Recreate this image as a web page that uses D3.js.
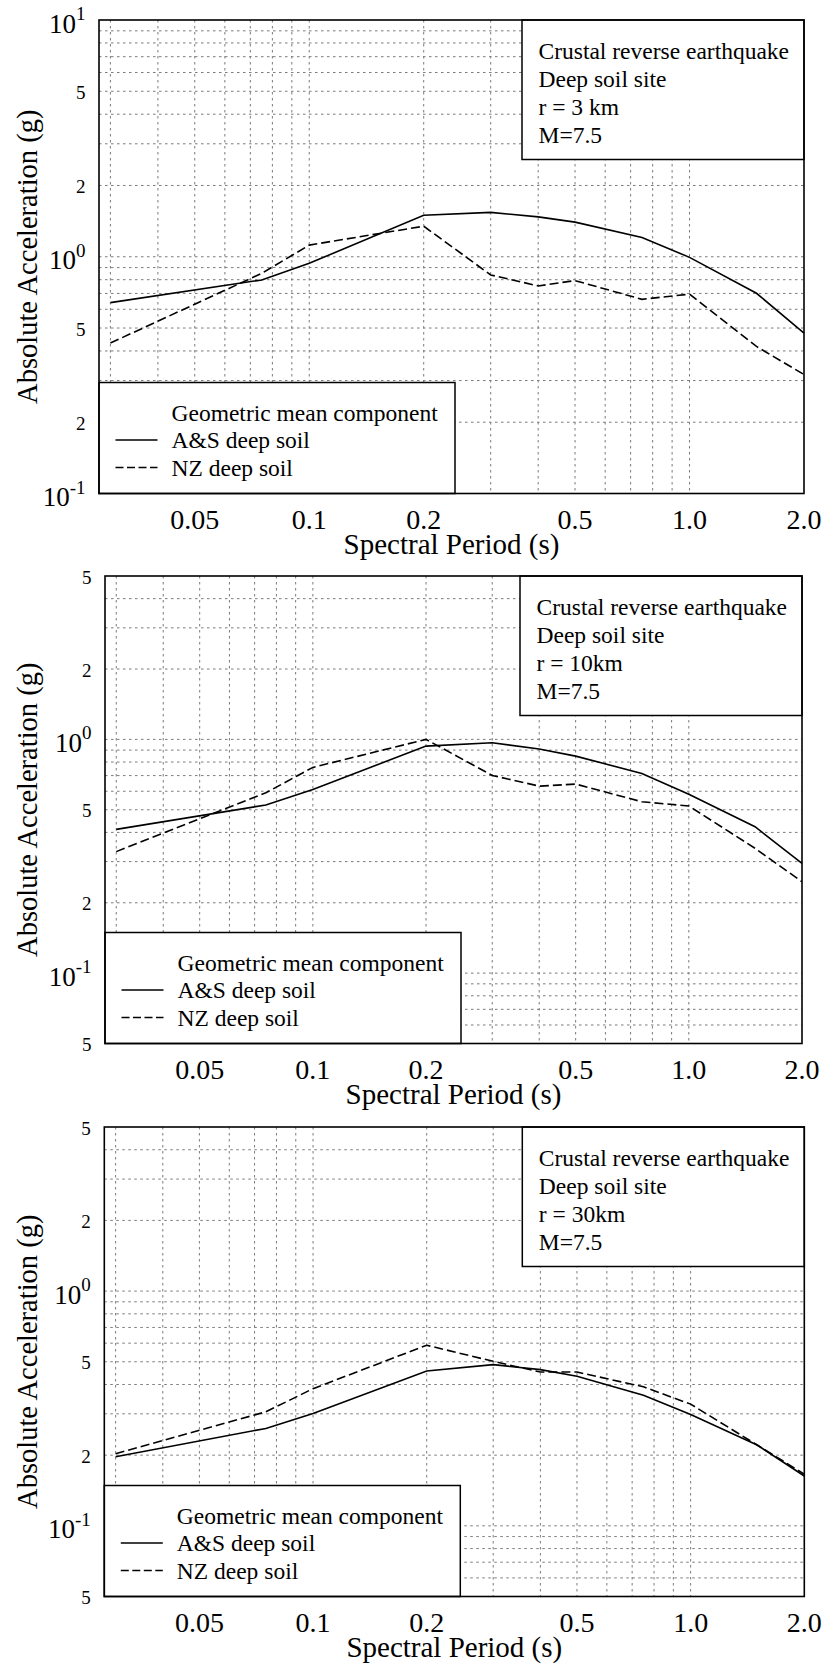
<!DOCTYPE html>
<html><head><meta charset="utf-8">
<script src="https://cdn.jsdelivr.net/npm/d3@7"></script>
<style>
body{margin:0;background:#fff;}
svg{display:block;font-family:"Liberation Serif","Times New Roman",serif;}
</style>
</head><body>
<svg id="chart" width="827" height="1669"></svg>
<script>
// ---- data ----
const periods = [0.03, 0.075, 0.1, 0.2, 0.3, 0.4, 0.5, 0.75, 1.0, 1.5, 2.0];
const asDeep3km  = [0.640, 0.798, 0.938, 1.498, 1.54, 1.474, 1.40, 1.207, 0.994, 0.701, 0.476];
const nzDeep3km  = [0.432, 0.851, 1.12, 1.346, 0.838, 0.753, 0.793, 0.661, 0.695, 0.418, 0.318];
const asDeep10km = [0.412, 0.524, 0.611, 0.936, 0.967, 0.909, 0.848, 0.715, 0.582, 0.423, 0.295];
const nzDeep10km = [0.331, 0.591, 0.759, 1.0, 0.701, 0.631, 0.644, 0.541, 0.519, 0.342, 0.246];
const asDeep30km = [0.197, 0.260, 0.301, 0.457, 0.486, 0.463, 0.434, 0.360, 0.298, 0.221, 0.163];
const nzDeep30km = [0.203, 0.306, 0.384, 0.588, 0.502, 0.452, 0.452, 0.391, 0.330, 0.221, 0.166];

const xTickValues = [0.05, 0.1, 0.2, 0.5, 1.0, 2.0];
const xTickLabels = ["0.05", "0.1", "0.2", "0.5", "1.0", "2.0"];
const xGridValues = [0.03, 0.04, 0.05, 0.06, 0.07, 0.08, 0.09, 0.1, 0.2, 0.3, 0.4, 0.5, 0.6, 0.7, 0.8, 0.9, 1.0];

const yTickValuesTop = [10, 5, 2, 1, 0.5, 0.2, 0.1];
const yTickLabelsTop = ["10^1", "5", "2", "10^0", "5", "2", "10^-1"];
const yTickValuesLow = [5, 2, 1, 0.5, 0.2, 0.1, 0.05];
const yTickLabelsLow = ["5", "2", "10^0", "5", "2", "10^-1", "5"];

const annot3km  = ["Crustal reverse earthquake", "Deep soil site", "r = 3 km", "M=7.5"];
const annot10km = ["Crustal reverse earthquake", "Deep soil site", "r = 10km", "M=7.5"];
const annot30km = ["Crustal reverse earthquake", "Deep soil site", "r = 30km", "M=7.5"];
const legendTitle = "Geometric mean component";
const seriesNames = ["A&S deep soil", "NZ deep soil"];
const xTitle = "Spectral Period (s)";
const yTitle = "Absolute Acceleration (g)";

// ---- layout ----
const panels = [
  {left: 99,  right: 804,   top: 20,   bottom: 493.5, yDomain: [0.1, 10],
   yTicks: yTickValuesTop, yLabels: yTickLabelsTop, as: asDeep3km, nz: nzDeep3km, annot: annot3km},
  {left: 105, right: 802,   top: 576,  bottom: 1043.5, yDomain: [0.05, 5],
   yTicks: yTickValuesLow, yLabels: yTickLabelsLow, as: asDeep10km, nz: nzDeep10km, annot: annot10km},
  {left: 104.3, right: 804.3, top: 1127, bottom: 1596.5, yDomain: [0.05, 5],
   yTicks: yTickValuesLow, yLabels: yTickLabelsLow, as: asDeep30km, nz: nzDeep30km, annot: annot30km}
];
const xDomain = [0.028, 2.0];

const svg = d3.select("#chart");
svg.append("rect").attr("width", 827).attr("height", 1669).attr("fill", "#fff");

function gridMultiples(domain) {
  const out = [];
  const lo = Math.floor(Math.log10(domain[0])), hi = Math.ceil(Math.log10(domain[1]));
  for (let e = lo; e <= hi; e++) for (let m = 1; m <= 9; m++) {
    const v = m * Math.pow(10, e);
    if (v > domain[0] * 1.0001 && v < domain[1] * 0.9999) out.push(v);
  }
  return out;
}

panels.forEach(p => {
  const x = d3.scaleLog().domain(xDomain).range([p.left, p.right]);
  const y = d3.scaleLog().domain(p.yDomain).range([p.bottom, p.top]);
  const g = svg.append("g");

  // grid
  const grid = g.append("g").attr("stroke", "#7a7a7a").attr("stroke-width", 1)
    .attr("stroke-dasharray", "2.5,3.5").attr("fill", "none");
  grid.selectAll("line.h").data(gridMultiples(p.yDomain)).join("line")
    .attr("x1", p.left).attr("x2", p.right)
    .attr("y1", d => y(d)).attr("y2", d => y(d));
  grid.selectAll("line.v").data(xGridValues).join("line")
    .attr("x1", d => x(d)).attr("x2", d => x(d))
    .attr("y1", p.top).attr("y2", p.bottom);

  // curves
  const line = d3.line().x(d => x(d[0])).y(d => y(d[1]));
  g.append("path").datum(periods.map((t, i) => [t, p.as[i]]))
    .attr("d", line).attr("fill", "none").attr("stroke", "#000").attr("stroke-width", 1.6);
  g.append("path").datum(periods.map((t, i) => [t, p.nz[i]]))
    .attr("d", line).attr("fill", "none").attr("stroke", "#000").attr("stroke-width", 1.6)
    .attr("stroke-dasharray", "9,4");

  // annotation box
  const aLeft = p.right - 282, aBottom = p.top + 139.5;
  g.append("rect").attr("x", aLeft).attr("y", p.top).attr("width", p.right - aLeft)
    .attr("height", aBottom - p.top).attr("fill", "#fff").attr("stroke", "#000").attr("stroke-width", 1.5);
  p.annot.forEach((t, i) => {
    g.append("text").attr("x", aLeft + 16.5).attr("y", p.top + 38.5 + i * 28)
      .attr("font-size", 23.5).attr("fill", "#000").text(t);
  });

  // legend box
  const lTop = p.bottom - 111, lRight = p.left + 356;
  g.append("rect").attr("x", p.left).attr("y", lTop).attr("width", lRight - p.left)
    .attr("height", p.bottom - lTop).attr("fill", "#fff").attr("stroke", "#000").attr("stroke-width", 1.5);
  g.append("text").attr("x", p.left + 72.5).attr("y", lTop + 38)
    .attr("font-size", 23.5).text(legendTitle);
  seriesNames.forEach((nm, i) => {
    const yy = lTop + 57.5 + i * 27.5;
    g.append("line").attr("x1", p.left + 16.5).attr("x2", p.left + 58.5)
      .attr("y1", yy).attr("y2", yy).attr("stroke", "#000").attr("stroke-width", 1.6)
      .attr("stroke-dasharray", i === 1 ? "8,3.5" : null);
    g.append("text").attr("x", p.left + 72.5).attr("y", lTop + 65.5 + i * 28)
      .attr("font-size", 23.5).text(nm);
  });

  // frame
  g.append("rect").attr("x", p.left).attr("y", p.top).attr("width", p.right - p.left)
    .attr("height", p.bottom - p.top).attr("fill", "none").attr("stroke", "#000").attr("stroke-width", 1.6);

  // x tick labels
  g.selectAll("text.xt").data(xTickValues).join("text")
    .attr("x", d => x(d)).attr("y", p.bottom + 35.5).attr("text-anchor", "middle")
    .attr("font-size", 28).text((d, i) => xTickLabels[i]);

  // y tick labels
  p.yTicks.forEach((v, i) => {
    const lab = p.yLabels[i];
    const t = g.append("text").attr("x", p.left - 13.5).attr("text-anchor", "end");
    if (lab.includes("^")) {
      const [base, ex] = lab.split("^");
      t.attr("y", y(v) + 12.5).attr("font-size", 27);
      t.append("tspan").text(base);
      t.append("tspan").attr("dy", -12.5).attr("font-size", 19).text(ex);
    } else {
      t.attr("y", y(v) + 7.5).attr("font-size", 19).text(lab);
    }
  });

  // axis titles
  g.append("text").attr("x", (p.left + p.right) / 2).attr("y", p.bottom + 60)
    .attr("text-anchor", "middle").attr("font-size", 29).text(xTitle);
  const cy = (p.top + p.bottom) / 2;
  g.append("text").attr("transform", `translate(37,${cy}) rotate(-90)`)
    .attr("text-anchor", "middle").attr("font-size", 28.5).text(yTitle);
});
</script>
</body></html>
